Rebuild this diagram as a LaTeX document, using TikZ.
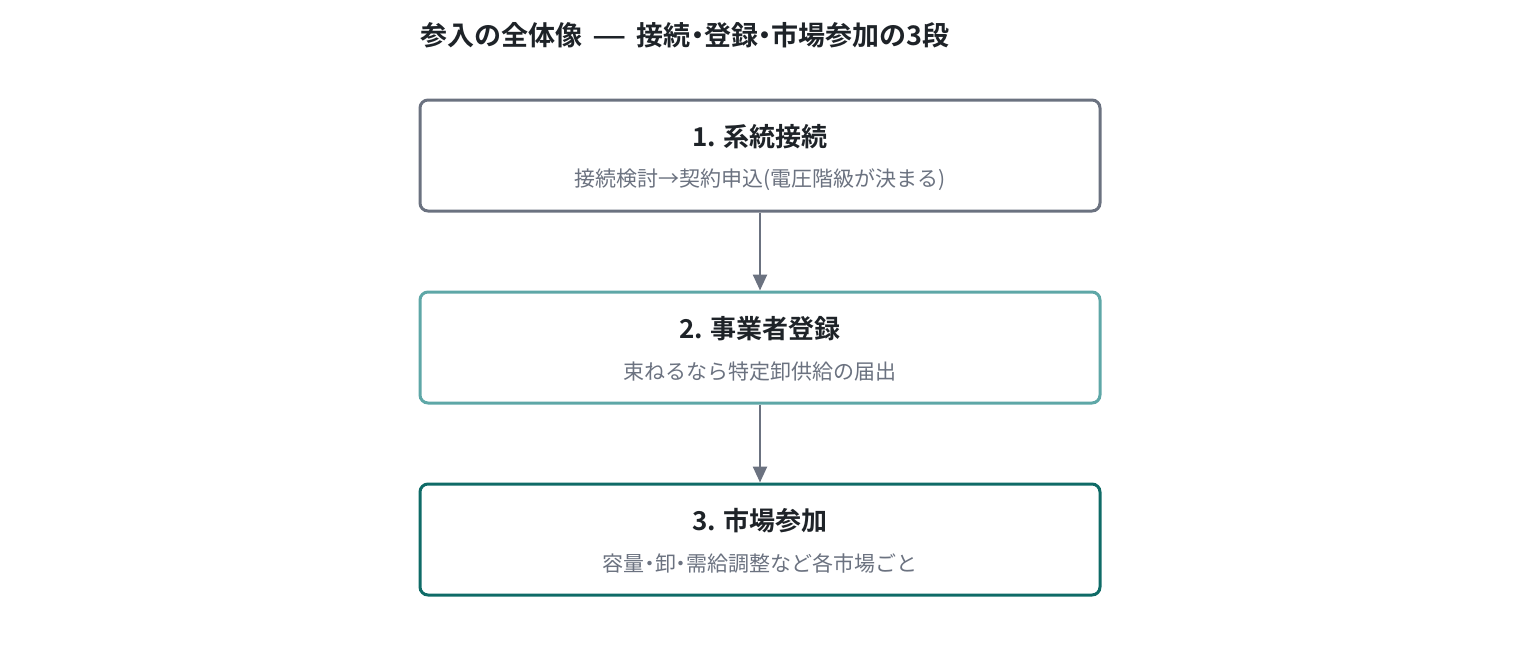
\documentclass[tikz,border=0pt]{standalone}
\usepackage{fontspec}
\setmainfont{Noto Sans CJK JP}[BoldFont={Noto Sans CJK JP Bold}]
\usetikzlibrary{arrows.meta,positioning}
\definecolor{ink}{HTML}{1E2328}
\definecolor{muted}{HTML}{6B7280}
\definecolor{slate}{HTML}{6B7280}
\definecolor{lteal}{HTML}{5EA7A7}
\definecolor{dteal}{HTML}{0F6B67}
% narrow middle dot
\newcommand{\nkdot}{{\addfontfeature{RawFeature=+palt}・}}

\begin{document}
\begin{tikzpicture}[x=1pt,y=-1pt,>={Triangle[length=16pt,width=14pt]},
  stage/.style={draw=#1,line width=3pt,rounded corners=8pt,fill=white,minimum width=680pt,minimum height=111pt},
  stitle/.style={text=ink,font=\fontsize{26}{30}\selectfont\bfseries},
  ssub/.style={text=muted,font=\fontsize{21}{24}\selectfont}]
  \useasboundingbox (0,0) rectangle (1520,656);
  \node[anchor=west,text=ink,font=\fontsize{27}{30}\selectfont\bfseries,inner sep=0pt] (title) at (420,35) {参入の全体像\hspace{4pt} {\scalebox{1.4}[1]{—}} \hspace{4pt}接続\nkdot 登録\nkdot 市場参加の3段};
  \node[stage=slate] (s1) at (760,155.5) {};
  \node[stage=lteal,below=78pt of s1] (s2) {};
  \node[stage=dteal,below=78pt of s2] (s3) {};
  \node[stitle] (s1t) at ([yshift=-38pt]s1.north) {1. 系統接続};
  \node[ssub] (s1s) at ([yshift=-81pt]s1.north) {接続検討→契約申込(電圧階級が決まる)};
  \node[stitle] (s2t) at ([yshift=-38pt]s2.north) {2. 事業者登録};
  \node[ssub] (s2s) at ([yshift=-81pt]s2.north) {束ねるなら特定卸供給の届出};
  \node[stitle] (s3t) at ([yshift=-38pt]s3.north) {3. 市場参加};
  \node[ssub] (s3s) at ([yshift=-81pt]s3.north) {容量\nkdot 卸\nkdot 需給調整など各市場ごと};
  \draw[->,slate,line width=2.5pt] (s1.south)--(s2.north);
  \draw[->,slate,line width=2.5pt] (s2.south)--(s3.north);
\end{tikzpicture}
\end{document}
